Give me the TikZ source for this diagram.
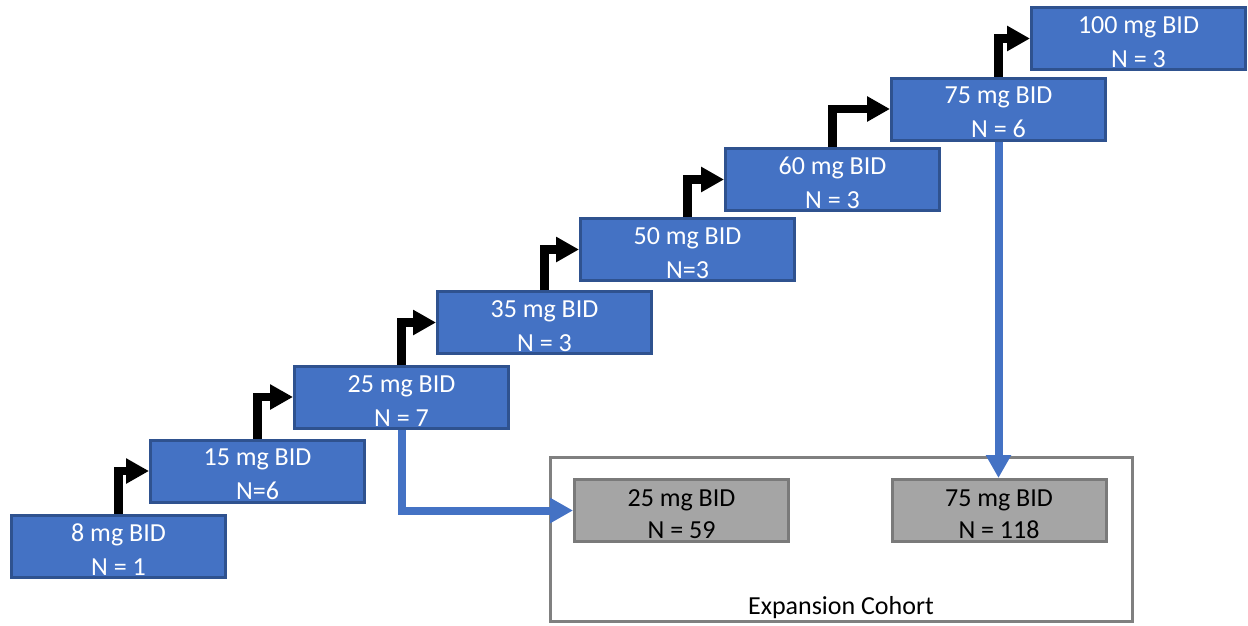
\documentclass[tikz,border=0pt]{standalone}
\usepackage{fontspec}
\setmainfont{Carlito}
\usetikzlibrary{arrows.meta}
\definecolor{boxblue}{HTML}{4472C4}
\definecolor{boxedge}{HTML}{2F528F}
\definecolor{boxgray}{HTML}{A5A5A5}
\definecolor{grayedge}{HTML}{7A7A7A}
\definecolor{outeredge}{HTML}{808080}
\newcommand{\dlift}{\rule{0pt}{24pt}}
\tikzset{
  dose/.style={draw=boxedge, fill=boxblue, line width=3pt, minimum width=214pt, minimum height=62pt,
    text=white, align=center, inner sep=0pt, font=\fontsize{26}{34}\selectfont},
  expdose/.style={draw=grayedge, fill=boxgray, line width=3pt, minimum width=214pt, minimum height=62pt,
    text=black, align=center, inner sep=0pt, font=\fontsize{26}{32}\selectfont},
  stepup/.style={line width=8.5pt, line join=miter, -{Triangle[length=23pt,width=24pt]}},
  toexp/.style={draw=boxblue, line width=8pt, line join=miter, -{Triangle[length=23pt,width=24pt]}}
}
\begin{document}
\begin{tikzpicture}[x=1pt,y=-1pt]
\useasboundingbox (0,0) rectangle (1248,625);
\node[draw=outeredge, line width=3pt, minimum width=582pt, minimum height=164pt, inner sep=0pt] (cohort) at (841.5,539.5) {};
\node[font=\fontsize{26}{31}\selectfont, text=black, inner sep=0pt] (cohortlbl) at (841,608) {Expansion Cohort};
\node[dose] (d8) at (118.5,546) {\dlift 8 mg BID\\N = 1};
\node[dose] (d15) at (257.5,471) {\dlift 15 mg BID\\N=6};
\node[dose] (d25) at (401.5,397) {\dlift 25 mg BID\\N = 7};
\node[dose] (d35) at (544.5,322.5) {\dlift 35 mg BID\\N = 3};
\node[dose] (d50) at (687.5,249.5) {\dlift 50 mg BID\\N=3};
\node[dose] (d60) at (832.5,179.5) {\dlift 60 mg BID\\N = 3};
\node[dose] (d75) at (998.5,109) {\dlift 75 mg BID\\N = 6};
\node[dose] (d100) at (1138.5,38.5) {\dlift 100 mg BID\\N = 3};
\node[expdose] (e25) at (681.5,510.5) {\dlift 25 mg BID\\N = 59};
\node[expdose] (e75) at (999,510.5) {\dlift 75 mg BID\\N = 118};
\draw[stepup] (d8.north) |- (d15.west);
\draw[stepup] (d15.north) |- (d25.west);
\draw[stepup] (d25.north) |- (d35.west);
\draw[stepup] (d35.north) |- (d50.west);
\draw[stepup] (d50.north) |- (d60.west);
\draw[stepup] (d60.north) |- (d75.west);
\draw[stepup] (d75.north) |- (d100.west);
\draw[toexp] (d25.south) |- (e25.west);
\draw[toexp] (d75.south) -- (d75.south |- e75.north);
\end{tikzpicture}
\end{document}
